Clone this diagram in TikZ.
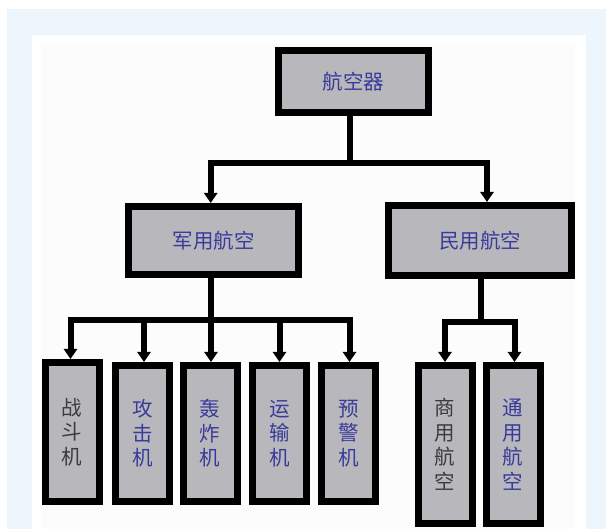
\documentclass[tikz,border=0pt]{standalone}
\usepackage{fontspec}
\newfontfamily\cjk{Noto Sans CJK SC}
\usetikzlibrary{arrows.meta}
\definecolor{pageblue}{HTML}{EEF6FD}
\definecolor{boxgray}{HTML}{B8B8BC}
\definecolor{inkblue}{HTML}{3A3A9C}
\definecolor{inkdark}{HTML}{3C3C3C}
\tikzset{
  card/.style={draw=black, line width=7pt, fill=boxgray, inner sep=0pt,
    font=\cjk\fontsize{20.5}{24.5}\selectfont, text=inkblue, align=center},
  wide/.style={card},
  tall/.style={card, minimum width=54pt, minimum height=136pt},
  wire/.style={line width=6pt, line cap=butt, line join=miter},
  feed/.style={wire, -{Triangle[width=13pt,length=10pt]}}
}
\begin{document}
\begin{tikzpicture}[x=1pt, y=-1pt]
  \useasboundingbox (0,0) rectangle (606,529);
  \clip (0,0) rectangle (606,529);
  % page background
  \fill[white] (0,0) rectangle (606,529);
  \fill[pageblue] (7,9) rectangle (606,529);
  \fill[white] (32,35) rectangle (586,529);
  \fill[black!1] (41,44) rectangle (575,529);

  % boxes
  \node[wide, minimum width=150pt, minimum height=62pt] (root) at (353.5,81.5) {航空器};
  \node[wide, minimum width=170pt, minimum height=68pt] (mil) at (213.5,240.5) {军用航空};
  \node[wide, minimum width=183pt, minimum height=70pt] (civ) at (480,240.5) {民用航空};

  \node[tall, minimum height=139pt, text=inkdark] (fighter) at (72,432) {战\\斗\\机};
  \node[tall] (attack)  at (142.5,433.5) {攻\\击\\机};
  \node[tall] (bomber)  at (210,433.5)   {轰\\炸\\机};
  \node[tall] (cargo)   at (279.5,433.5) {运\\输\\机};
  \node[tall] (awacs)   at (348.7,433.5) {预\\警\\机};
  \node[tall, minimum height=158pt, text=inkdark] (airline) at (445,444.5) {商\\用\\航\\空};
  \node[tall, minimum height=158pt] (general) at (513,444.5) {通\\用\\航\\空};

  % bus points
  \coordinate (rootbus) at (350,163.5);
  \coordinate (milbus) at (211,320.5);
  \coordinate (civbus) at (481,322);

  % top level
  \draw[wire] (root.south -| rootbus) -- (rootbus);
  \draw[feed] (rootbus) -| ([xshift=-2.8pt]mil.north);
  \draw[feed] (rootbus) -| ([xshift=7pt]civ.north);

  % military branch
  \draw[wire] (mil.south -| milbus) -- (milbus);
  \draw[feed] (milbus) -| ([xshift=-1.5pt]fighter.north);
  \draw[feed] (milbus) -| ([xshift=1.5pt]attack.north);
  \draw[feed] (milbus) -- (milbus |- bomber.north);
  \draw[feed] (milbus) -| (cargo.north);
  \draw[feed] (milbus) -| ([xshift=0.8pt]awacs.north);

  % civil branch
  \draw[wire] (civ.south -| civbus) -- (civbus);
  \draw[feed] (civbus) -| (airline.north);
  \draw[feed] (civbus) -| ([xshift=1.5pt]general.north);
\end{tikzpicture}
\end{document}
